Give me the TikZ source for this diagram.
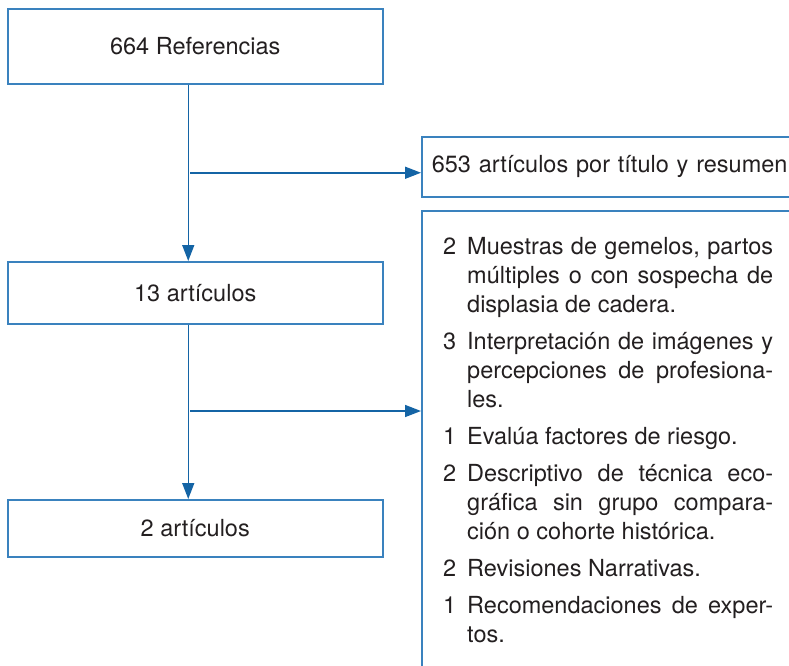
\documentclass[tikz,border=0pt]{standalone}
\usepackage{fontspec}
\setmainfont{TeX Gyre Heros}
\usetikzlibrary{arrows.meta}
\definecolor{boxblue}{RGB}{58,130,190}
\definecolor{arrblue}{RGB}{20,100,165}
\definecolor{txtgray}{RGB}{35,31,32}
\newcommand{\excitem}[2]{\hangindent=24pt\hangafter=1\makebox[24pt][l]{#1}#2\par}

\begin{document}
\begin{tikzpicture}[x=1pt,y=-1pt,
  box/.style={draw=boxblue,line width=1.5pt,text=txtgray,font=\fontsize{23.5}{29}\selectfont},
  arr/.style={draw=arrblue,line width=1.5pt,-{Triangle[length=16pt,width=12pt]}}]
\useasboundingbox (0,0) rectangle (789,665);
\clip (0,0) rectangle (789,665);
\node[box,anchor=north west,minimum width=375pt,minimum height=75pt] (ref) at (7,8) {664 Referencias};
\node[box,anchor=north west,minimum width=375pt,minimum height=62pt] (art13) at (7,261) {13 artículos};
\node[box,anchor=north west,minimum width=375pt,minimum height=57pt] (art2) at (7,499) {2 artículos};
\node[box,anchor=north west,minimum width=420pt,minimum height=60pt,text width=400pt,align=left,inner xsep=9pt] (tit) at (421,136) {653 artículos por título y resumen};
\node[box,anchor=north west,minimum width=420pt,minimum height=500pt] (excl) at (421,210) {};
\node[anchor=base west,text width=330pt,align=justify,inner sep=0pt,text=txtgray,font=\fontsize{23.5}{29}\selectfont] (lst) at (443,254) {\parskip=8pt
\excitem{2}{Muestras de gemelos, partos\linebreak múltiples o con sospecha de\linebreak displasia de cadera.}
\excitem{3}{Interpretación de imágenes y\linebreak percepciones de profesiona-\linebreak les.}
\excitem{1}{Evalúa factores de riesgo.}
\excitem{2}{Descriptivo de técnica eco-\linebreak gráfica sin grupo compara-\linebreak ción o cohorte histórica.}
\excitem{2}{Revisiones Narrativas.}
\excitem{1}{Recomendaciones de exper-\linebreak tos.}};
\coordinate (a1) at ([yshift=-6pt]tit.west);
\coordinate (a2) at (421,411);
\draw[arr] ([xshift=-7pt]ref.south) -- ([xshift=-7pt]art13.north);
\draw[arr] ([xshift=-7pt]art13.south) -- ([xshift=-7pt]art2.north);
\draw[arr] ([xshift=-5pt]ref.south |- a1) -- (a1);
\draw[arr] ([xshift=-5pt]art13.south |- a2) -- (a2);
\end{tikzpicture}
\end{document}
